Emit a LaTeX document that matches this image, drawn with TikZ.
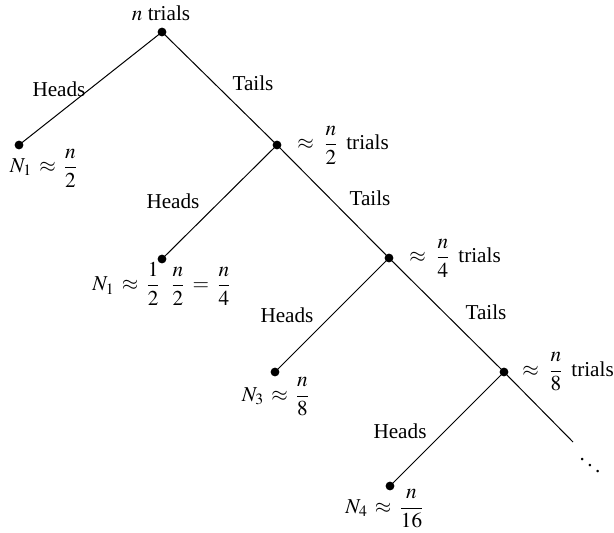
\documentclass[tikz,border=0pt]{standalone}
\usepackage{amsmath}
\usepackage{mathptmx}
\usepackage[no-math]{fontspec}
\setmainfont{Liberation Serif}
\newcommand{\apx}{\mathrel{\,\approx\,}}
\newcommand{\eqx}{\mathrel{\,=\,}}
\begin{document}
\begin{tikzpicture}[x=0.5pt,y=-0.5pt,
  every node/.style={font=\fontsize{10.6}{12.5}\selectfont},
  pt/.style={circle,fill=black,inner sep=0pt,minimum size=4.4pt},
  edge/.style={line width=0.5pt},
  lbl/.style={inner sep=0pt}]
\useasboundingbox (0,0) rectangle (614,533);
% points
\node[pt] (t0) at (162,32) {};
\node[pt] (h1) at (19,145) {};
\node[pt] (t1) at (277,145) {};
\node[pt] (h2) at (162,259) {};
\node[pt] (t2) at (389,258) {};
\node[pt] (h3) at (275,372) {};
\node[pt] (t3) at (504,372) {};
\node[pt] (h4) at (390,486) {};
\coordinate (e) at (573,442);
% edges
\draw[edge] (t0.center) -- (h1.center);
\draw[edge] (t0.center) -- (t1.center);
\draw[edge] (t1.center) -- (h2.center);
\draw[edge] (t1.center) -- (t2.center);
\draw[edge] (t2.center) -- (h3.center);
\draw[edge] (t2.center) -- (t3.center);
\draw[edge] (t3.center) -- (h4.center);
\draw[edge] (t3.center) -- (e);
% labels
\node[lbl] (l0) at (161,13) {$n$ trials};
\node[lbl] (a1) at (59,89) {Heads};
\node[lbl] (b1) at (253,83) {Tails};
\node[lbl] (a2) at (173,201) {Heads};
\node[lbl] (b2) at (370,198) {Tails};
\node[lbl] (a3) at (287,315) {Heads};
\node[lbl] (b3) at (486,312) {Tails};
\node[lbl] (a4) at (400,431) {Heads};
\node[lbl,anchor=west] (r1) at (297,145) {$\approx\;\dfrac{n}{2}\,$ trials};
\node[lbl,anchor=west] (r2) at (409,258) {$\approx\;\dfrac{n}{4}\,$ trials};
\node[lbl,anchor=west] (r3) at (522,372) {$\approx\;\dfrac{n}{8}\,$ trials};
\node[lbl] (n1) at (44,168) {$N_1\apx\dfrac{n}{2}$};
\node[lbl] (n2) at (162,284) {$N_1\apx\dfrac{1}{2}\;\;\dfrac{n}{2}\eqx\dfrac{n}{4}$};
\node[lbl] (n3) at (276,397) {$N_3\apx\dfrac{n}{8}$};
\node[lbl] (n4) at (385,509) {$N_4\apx\dfrac{n}{16}$};
\node[lbl] (dd) at (590,459) {$\ddots$};
\end{tikzpicture}
\end{document}
